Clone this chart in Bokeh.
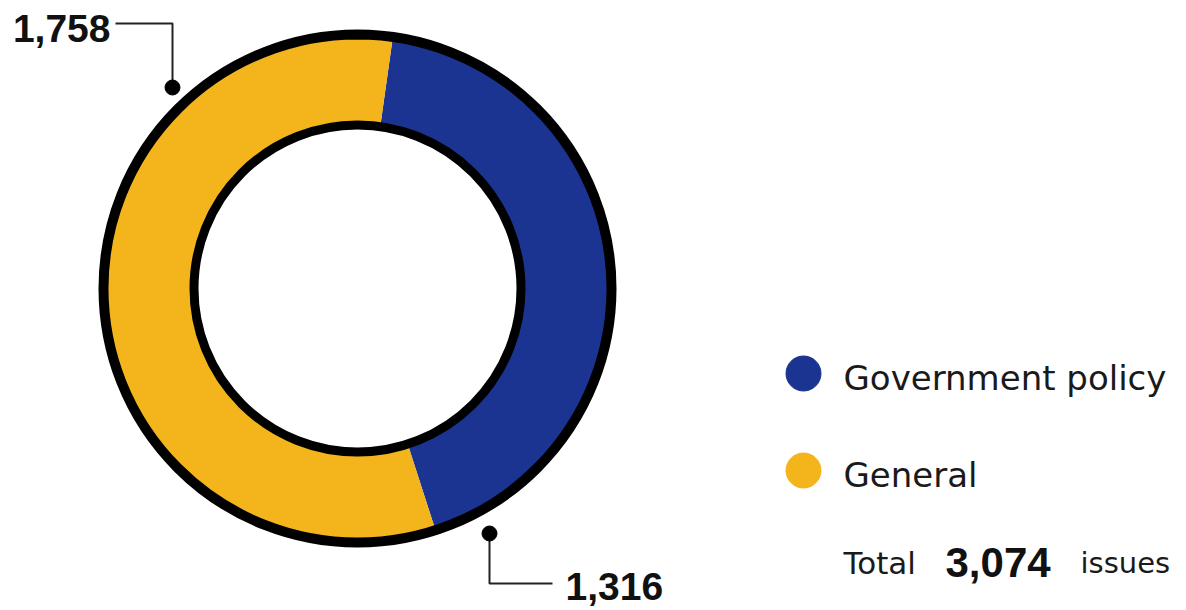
from bokeh.plotting import figure
from bokeh.models import Range1d, ColumnDataSource
from bokeh.core.properties import value
from bokeh.embed import file_html
from bokeh.resources import INLINE
import math

# ---- data ----
categories = ["Government policy", "General"]
counts = [1316, 1758]
colors = ["#1b3491", "#f4b41c"]
total_label = "Total"
unit_label = "issues"

W, H = 1186, 610
p = figure(width=W, height=H, x_range=Range1d(0, W), y_range=Range1d(0, H),
           output_backend="svg", toolbar_location=None, min_border=0)
p.axis.visible = False
p.grid.visible = False
p.outline_line_color = None
p.background_fill_color = "white"
p.border_fill_color = "white"

cx, cy = 357, 322
total = sum(counts)
start0 = math.radians(82.0)
starts, ends = [], []
a = start0
for c in counts:
    starts.append(a)
    a = a - 2 * math.pi * c / total
    ends.append(a)

src = ColumnDataSource(dict(x=[cx] * len(counts), y=[cy] * len(counts),
                            start=starts, end=ends, color=colors, cat=categories, n=counts))
p.annular_wedge(x="x", y="y", inner_radius=165, outer_radius=252,
                start_angle="start", end_angle="end", direction="clock",
                fill_color="color", line_color=None, source=src)
# black rims
p.circle(x=[cx], y=[cy], radius=254, fill_color=None, line_color="black", line_width=10)
p.circle(x=[cx], y=[cy], radius=163.5, fill_color=None, line_color="black", line_width=9)

# leader lines + labels
lab = [f"{v:,}" for v in counts]
# General (index 1) label top-left
p.line(x=[172, 172, 115], y=[523, 587, 587], line_color="#222222", line_width=2)
p.scatter(x=[172], y=[523], size=15, color="black")
p.text(x=[110], y=[582], text=[lab[1]], text_font=value("Liberation Sans"),
       text_font_style="bold", text_font_size="39px", text_align="right",
       text_baseline="middle", text_color="#111111")
# Government (index 0) label bottom
p.line(x=[489, 489, 552], y=[77, 27, 27], line_color="#222222", line_width=2)
p.scatter(x=[489], y=[77], size=15, color="black")
p.text(x=[565], y=[24], text=[lab[0]], text_font=value("Liberation Sans"),
       text_font_style="bold", text_font_size="39px", text_align="left",
       text_baseline="middle", text_color="#111111")

# legend
p.scatter(x=[803, 803], y=[237, 140], size=35, color=colors)
p.text(x=[843, 843], y=[233, 136], text=categories, text_font=value("DejaVu Sans"),
       text_font_size="34px", text_baseline="alphabetic", text_color="#1a1a1a")

# total
p.text(x=[843], y=[48], text=[total_label], text_font=value("DejaVu Sans"),
       text_font_size="31px", text_baseline="alphabetic", text_color="#1a1a1a")
p.text(x=[945], y=[48], text=[f"{total:,}"], text_font=value("Liberation Sans"),
       text_font_style="bold", text_font_size="42px", text_baseline="alphabetic",
       text_color="#111111")
p.text(x=[1080], y=[48], text=[unit_label], text_font=value("DejaVu Sans"),
       text_font_size="29px", text_baseline="alphabetic", text_color="#1a1a1a")

open("out.html", "w").write(file_html(p, INLINE))
